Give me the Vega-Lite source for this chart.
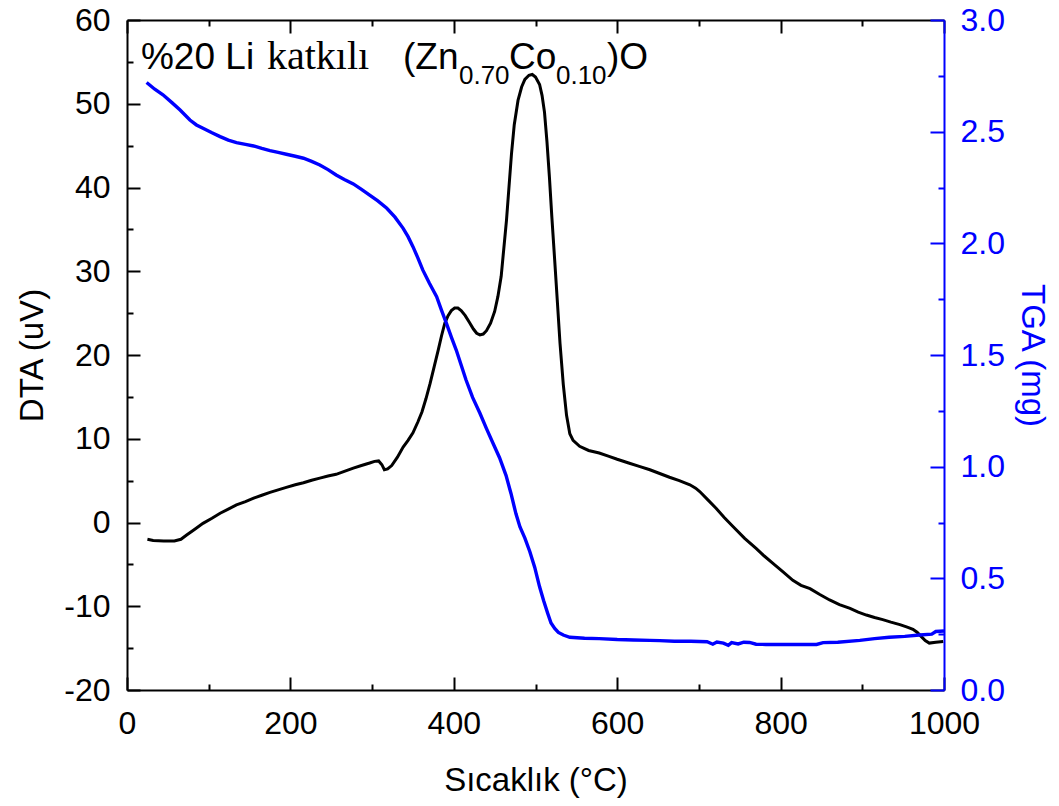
{
  "$schema": "https://vega.github.io/schema/vega-lite/v6.json",
  "width": 817,
  "height": 670,
  "autosize": {"type": "none"},
  "padding": {"left": 127, "top": 20, "right": 115, "bottom": 116},
  "background": "white",
  "config": {
    "view": {"stroke": null},
    "axis": {
      "grid": false,
      "labelFont": "Liberation Sans",
      "titleFont": "Liberation Sans",
      "labelColor": "black",
      "titleColor": "black",
      "titleFontWeight": "normal",
      "labelFontSize": 32,
      "titleFontSize": 33,
      "tickColor": "black",
      "domainColor": "black",
      "tickWidth": 2,
      "domainWidth": 2,
      "labelFlush": false,
      "labelOverlap": false
    }
  },
  "datasets": {
    "dta": [
      {"T":25,"DTA":-2.0},{"T":32,"DTA":-2.15},{"T":45,"DTA":-2.2},{"T":58,"DTA":-2.2},{"T":66,"DTA":-2.0},{"T":73,"DTA":-1.5},{"T":83,"DTA":-0.8},{"T":93,"DTA":-0.1},{"T":104,"DTA":0.5},{"T":114,"DTA":1.1},{"T":124,"DTA":1.6},{"T":134,"DTA":2.1},{"T":145,"DTA":2.5},{"T":155,"DTA":2.9},{"T":165,"DTA":3.25},{"T":175,"DTA":3.6},{"T":185,"DTA":3.9},{"T":195,"DTA":4.2},{"T":206,"DTA":4.5},{"T":216,"DTA":4.75},{"T":226,"DTA":5.05},{"T":236,"DTA":5.3},{"T":246,"DTA":5.55},{"T":256,"DTA":5.75},{"T":266,"DTA":6.1},{"T":277,"DTA":6.5},{"T":287,"DTA":6.8},{"T":297,"DTA":7.1},{"T":303,"DTA":7.3},{"T":308,"DTA":7.35},{"T":312,"DTA":6.9},{"T":315,"DTA":6.3},{"T":319,"DTA":6.4},{"T":324,"DTA":6.8},{"T":331,"DTA":7.8},{"T":338,"DTA":9.0},{"T":344,"DTA":9.8},{"T":350,"DTA":10.7},{"T":356,"DTA":12.0},{"T":361,"DTA":13.2},{"T":366,"DTA":14.8},{"T":371,"DTA":16.6},{"T":376,"DTA":18.6},{"T":381,"DTA":20.6},{"T":385,"DTA":22.3},{"T":389,"DTA":23.8},{"T":393,"DTA":24.7},{"T":397,"DTA":25.3},{"T":401,"DTA":25.6},{"T":405,"DTA":25.6},{"T":409,"DTA":25.3},{"T":414,"DTA":24.7},{"T":419,"DTA":23.9},{"T":424,"DTA":23.1},{"T":428,"DTA":22.6},{"T":432,"DTA":22.4},{"T":436,"DTA":22.5},{"T":440,"DTA":22.9},{"T":445,"DTA":23.8},{"T":450,"DTA":25.2},{"T":454,"DTA":27.0},{"T":458,"DTA":29.4},{"T":461,"DTA":32.5},{"T":464.5,"DTA":36.1},{"T":467.5,"DTA":40.0},{"T":470.6,"DTA":44.0},{"T":474,"DTA":47.5},{"T":478.6,"DTA":50.4},{"T":483,"DTA":52.0},{"T":487,"DTA":52.9},{"T":492,"DTA":53.4},{"T":496,"DTA":53.5},{"T":500,"DTA":53.2},{"T":505,"DTA":52.3},{"T":508,"DTA":51.0},{"T":511,"DTA":49.0},{"T":514,"DTA":45.5},{"T":517,"DTA":41.3},{"T":520,"DTA":36.5},{"T":523.5,"DTA":31.3},{"T":527,"DTA":26.0},{"T":530,"DTA":21.4},{"T":534,"DTA":16.5},{"T":538,"DTA":12.8},{"T":542,"DTA":10.6},{"T":546,"DTA":9.8},{"T":554,"DTA":9.1},{"T":565,"DTA":8.6},{"T":578,"DTA":8.3},{"T":590,"DTA":7.9},{"T":600,"DTA":7.55},{"T":614,"DTA":7.1},{"T":627,"DTA":6.7},{"T":640,"DTA":6.3},{"T":652,"DTA":5.85},{"T":664,"DTA":5.4},{"T":676,"DTA":5.0},{"T":689,"DTA":4.5},{"T":696,"DTA":4.1},{"T":701,"DTA":3.7},{"T":711,"DTA":2.7},{"T":721,"DTA":1.7},{"T":731,"DTA":0.6},{"T":742,"DTA":-0.5},{"T":756,"DTA":-1.9},{"T":770,"DTA":-3.1},{"T":780,"DTA":-4.0},{"T":791,"DTA":-4.9},{"T":803,"DTA":-5.9},{"T":815,"DTA":-6.9},{"T":825,"DTA":-7.5},{"T":836,"DTA":-7.9},{"T":848,"DTA":-8.6},{"T":860,"DTA":-9.25},{"T":872,"DTA":-9.8},{"T":885,"DTA":-10.25},{"T":895,"DTA":-10.7},{"T":905,"DTA":-11.05},{"T":915,"DTA":-11.35},{"T":925,"DTA":-11.6},{"T":935,"DTA":-11.9},{"T":946,"DTA":-12.2},{"T":955,"DTA":-12.5},{"T":962,"DTA":-12.75},{"T":967,"DTA":-13.1},{"T":972,"DTA":-13.6},{"T":977,"DTA":-14.1},{"T":982,"DTA":-14.4},{"T":990,"DTA":-14.3},{"T":999,"DTA":-14.2}
    ],
    "tga": [
      {"T":24,"TGA":2.72},{"T":34,"TGA":2.69},{"T":44,"TGA":2.665},{"T":55,"TGA":2.63},{"T":65,"TGA":2.597},{"T":77,"TGA":2.552},{"T":85,"TGA":2.53},{"T":93,"TGA":2.515},{"T":104,"TGA":2.495},{"T":114,"TGA":2.478},{"T":124,"TGA":2.462},{"T":134,"TGA":2.451},{"T":145,"TGA":2.443},{"T":155,"TGA":2.436},{"T":165,"TGA":2.425},{"T":175,"TGA":2.415},{"T":185,"TGA":2.407},{"T":195,"TGA":2.399},{"T":206,"TGA":2.39},{"T":216,"TGA":2.381},{"T":226,"TGA":2.367},{"T":236,"TGA":2.351},{"T":246,"TGA":2.33},{"T":256,"TGA":2.306},{"T":266,"TGA":2.286},{"T":277,"TGA":2.266},{"T":287,"TGA":2.242},{"T":297,"TGA":2.216},{"T":307,"TGA":2.19},{"T":318,"TGA":2.157},{"T":328,"TGA":2.117},{"T":338,"TGA":2.067},{"T":344,"TGA":2.03},{"T":350,"TGA":1.985},{"T":356,"TGA":1.935},{"T":362,"TGA":1.881},{"T":370,"TGA":1.822},{"T":379,"TGA":1.761},{"T":385,"TGA":1.70},{"T":391,"TGA":1.642},{"T":397,"TGA":1.58},{"T":403,"TGA":1.522},{"T":409,"TGA":1.455},{"T":415,"TGA":1.388},{"T":423,"TGA":1.31},{"T":432,"TGA":1.239},{"T":440,"TGA":1.17},{"T":448,"TGA":1.105},{"T":456,"TGA":1.04},{"T":464,"TGA":0.96},{"T":470,"TGA":0.88},{"T":476,"TGA":0.79},{"T":481,"TGA":0.73},{"T":487,"TGA":0.68},{"T":493,"TGA":0.62},{"T":499,"TGA":0.55},{"T":505,"TGA":0.462},{"T":510,"TGA":0.40},{"T":515,"TGA":0.343},{"T":519,"TGA":0.30},{"T":523.5,"TGA":0.276},{"T":528,"TGA":0.258},{"T":534,"TGA":0.246},{"T":542,"TGA":0.236},{"T":560,"TGA":0.232},{"T":578,"TGA":0.230},{"T":600,"TGA":0.226},{"T":620,"TGA":0.224},{"T":640,"TGA":0.222},{"T":652,"TGA":0.221},{"T":670,"TGA":0.218},{"T":690,"TGA":0.218},{"T":710,"TGA":0.216},{"T":717,"TGA":0.205},{"T":722,"TGA":0.215},{"T":730,"TGA":0.210},{"T":736,"TGA":0.20},{"T":740,"TGA":0.212},{"T":748,"TGA":0.206},{"T":755,"TGA":0.214},{"T":762,"TGA":0.213},{"T":770,"TGA":0.205},{"T":782,"TGA":0.204},{"T":800,"TGA":0.204},{"T":820,"TGA":0.204},{"T":844,"TGA":0.204},{"T":852,"TGA":0.212},{"T":870,"TGA":0.214},{"T":897,"TGA":0.222},{"T":915,"TGA":0.23},{"T":933,"TGA":0.236},{"T":952,"TGA":0.24},{"T":970,"TGA":0.246},{"T":985,"TGA":0.25},{"T":990,"TGA":0.262},{"T":1000,"TGA":0.264}
    ],
    "note": [
      {"part":"%20 Li","T":17.1,"DTA":54.2},
      {"part":"katkılı","T":17.1,"DTA":54.2},
      {"part":"(Zn","T":17.1,"DTA":54.2},
      {"part":"0.70","T":17.1,"DTA":54.2},
      {"part":"Co","T":17.1,"DTA":54.2},
      {"part":"0.10","T":17.1,"DTA":54.2},
      {"part":")O","T":17.1,"DTA":54.2}
    ]
  },
  "layer": [
    {
      "data": {"name": "dta"},
      "mark": {"type": "line", "color": "black", "strokeWidth": 3},
      "encoding": {
        "x": {"field": "T", "type": "quantitative", "scale": {"domain": [0, 1000], "nice": false, "zero": false},
          "axis": {"orient": "bottom", "values": [0,200,400,600,800,1000], "labelExpr": "'' + datum.value", "ticks": false, "labelPadding": 18,
            "title": "Sıcaklık (°C)", "titleY": 100, "titleBaseline": "alphabetic"}},
        "y": {"field": "DTA", "type": "quantitative", "scale": {"domain": [-20, 60], "nice": false, "zero": false},
          "axis": {"orient": "left", "values": [-20,-10,0,10,20,30,40,50,60], "labelExpr": "'' + datum.value", "ticks": false, "labelPadding": 17,
            "title": "DTA (uV)", "titleX": -85, "titleY": 335, "titleAngle": -90, "titleAlign": "center", "titleBaseline": "alphabetic"}}
      }
    },
    {
      "data": {"name": "tga"},
      "mark": {"type": "line", "color": "#0000ff", "strokeWidth": 3.4},
      "encoding": {
        "x": {"field": "T", "type": "quantitative", "scale": {"domain": [0, 1000], "nice": false, "zero": false},
          "axis": {"orient": "bottom", "values": [0,200,400,600,800,1000], "labels": false, "domain": false, "tickSize": -13, "title": null}},
        "y": {"field": "TGA", "type": "quantitative", "scale": {"domain": [0, 3], "nice": false, "zero": false},
          "axis": {"orient": "right", "values": [0,0.5,1,1.5,2,2.5,3], "format": ".1f", "ticks": false, "labelPadding": 16,
            "labelColor": "#0000ff", "domainColor": "#0000ff",
            "title": "TGA (mg)", "titleColor": "#0000ff", "titleX": 77, "titleY": 335, "titleAngle": 90, "titleAlign": "center", "titleBaseline": "alphabetic"}}
      }
    },
    {
      "data": {"name": "dta"},
      "mark": {"type": "line", "opacity": 0},
      "encoding": {
        "x": {"field": "T", "type": "quantitative", "scale": {"domain": [0, 1000], "nice": false, "zero": false},
          "axis": {"orient": "bottom", "values": [100,300,500,700,900], "labels": false, "domain": false, "tickSize": -6, "title": null}},
        "y": {"field": "DTA", "type": "quantitative", "scale": {"domain": [-20, 60], "nice": false, "zero": false},
          "axis": {"orient": "left", "values": [-20,-10,0,10,20,30,40,50,60], "labels": false, "domain": false, "tickSize": -13, "title": null}}
      }
    },
    {
      "data": {"name": "dta"},
      "mark": {"type": "line", "opacity": 0},
      "encoding": {
        "x": {"field": "T", "type": "quantitative", "scale": {"domain": [0, 1000], "nice": false, "zero": false},
          "axis": {"orient": "top", "values": [0,200,400,600,800,1000], "labels": false, "domain": true, "tickSize": -13, "title": null}},
        "y": {"field": "DTA", "type": "quantitative", "scale": {"domain": [-20, 60], "nice": false, "zero": false},
          "axis": {"orient": "left", "values": [-15,-5,5,15,25,35,45,55], "labels": false, "domain": false, "tickSize": -6, "title": null}}
      }
    },
    {
      "data": {"name": "tga"},
      "mark": {"type": "line", "opacity": 0},
      "encoding": {
        "x": {"field": "T", "type": "quantitative", "scale": {"domain": [0, 1000], "nice": false, "zero": false},
          "axis": {"orient": "top", "values": [100,300,500,700,900], "labels": false, "domain": false, "tickSize": -6, "title": null}},
        "y": {"field": "TGA", "type": "quantitative", "scale": {"domain": [0, 3], "nice": false, "zero": false},
          "axis": {"orient": "right", "values": [0,0.5,1,1.5,2,2.5,3], "labels": false, "domain": false, "tickSize": -14, "tickColor": "#0000ff", "title": null}}
      }
    },
    {
      "data": {"name": "tga"},
      "mark": {"type": "line", "opacity": 0},
      "encoding": {
        "x": {"field": "T", "type": "quantitative", "scale": {"domain": [0, 1000], "nice": false, "zero": false}, "axis": null},
        "y": {"field": "TGA", "type": "quantitative", "scale": {"domain": [0, 3], "nice": false, "zero": false},
          "axis": {"orient": "right", "values": [0.25,0.75,1.25,1.75,2.25,2.75], "labels": false, "domain": false, "tickSize": -6, "tickColor": "#0000ff", "title": null}}
      }
    },
    {
      "data": {"name": "note"},
      "transform": [{"filter": "datum.part === '%20 Li'"}],
      "mark": {"type": "text", "align": "left", "baseline": "alphabetic", "font": "Liberation Sans", "fontSize": 37, "color": "black", "dx": 0},
      "encoding": {
        "x": {"field": "T", "type": "quantitative", "scale": {"domain": [0, 1000], "nice": false, "zero": false}, "axis": null},
        "y": {"field": "DTA", "type": "quantitative", "scale": {"domain": [-20, 60], "nice": false, "zero": false}, "axis": null},
        "text": {"field": "part"}
      }
    },
    {
      "data": {"name": "note"},
      "transform": [{"filter": "datum.part === 'katkılı'"}],
      "mark": {"type": "text", "align": "left", "baseline": "alphabetic", "font": "Liberation Serif", "fontSize": 40, "color": "black", "dx": 126},
      "encoding": {
        "x": {"field": "T", "type": "quantitative", "scale": {"domain": [0, 1000], "nice": false, "zero": false}, "axis": null},
        "y": {"field": "DTA", "type": "quantitative", "scale": {"domain": [-20, 60], "nice": false, "zero": false}, "axis": null},
        "text": {"field": "part"}
      }
    },
    {
      "data": {"name": "note"},
      "transform": [{"filter": "datum.part === '(Zn'"}],
      "mark": {"type": "text", "align": "left", "baseline": "alphabetic", "font": "Liberation Sans", "fontSize": 37, "color": "black", "dx": 262},
      "encoding": {
        "x": {"field": "T", "type": "quantitative", "scale": {"domain": [0, 1000], "nice": false, "zero": false}, "axis": null},
        "y": {"field": "DTA", "type": "quantitative", "scale": {"domain": [-20, 60], "nice": false, "zero": false}, "axis": null},
        "text": {"field": "part"}
      }
    },
    {
      "data": {"name": "note"},
      "transform": [{"filter": "datum.part === '0.70'"}],
      "mark": {"type": "text", "align": "left", "baseline": "alphabetic", "font": "Liberation Sans", "fontSize": 26, "color": "black", "dx": 318, "dy": 15},
      "encoding": {
        "x": {"field": "T", "type": "quantitative", "scale": {"domain": [0, 1000], "nice": false, "zero": false}, "axis": null},
        "y": {"field": "DTA", "type": "quantitative", "scale": {"domain": [-20, 60], "nice": false, "zero": false}, "axis": null},
        "text": {"field": "part"}
      }
    },
    {
      "data": {"name": "note"},
      "transform": [{"filter": "datum.part === 'Co'"}],
      "mark": {"type": "text", "align": "left", "baseline": "alphabetic", "font": "Liberation Sans", "fontSize": 37, "color": "black", "dx": 368},
      "encoding": {
        "x": {"field": "T", "type": "quantitative", "scale": {"domain": [0, 1000], "nice": false, "zero": false}, "axis": null},
        "y": {"field": "DTA", "type": "quantitative", "scale": {"domain": [-20, 60], "nice": false, "zero": false}, "axis": null},
        "text": {"field": "part"}
      }
    },
    {
      "data": {"name": "note"},
      "transform": [{"filter": "datum.part === '0.10'"}],
      "mark": {"type": "text", "align": "left", "baseline": "alphabetic", "font": "Liberation Sans", "fontSize": 26, "color": "black", "dx": 415, "dy": 15},
      "encoding": {
        "x": {"field": "T", "type": "quantitative", "scale": {"domain": [0, 1000], "nice": false, "zero": false}, "axis": null},
        "y": {"field": "DTA", "type": "quantitative", "scale": {"domain": [-20, 60], "nice": false, "zero": false}, "axis": null},
        "text": {"field": "part"}
      }
    },
    {
      "data": {"name": "note"},
      "transform": [{"filter": "datum.part === ')O'"}],
      "mark": {"type": "text", "align": "left", "baseline": "alphabetic", "font": "Liberation Sans", "fontSize": 37, "color": "black", "dx": 466},
      "encoding": {
        "x": {"field": "T", "type": "quantitative", "scale": {"domain": [0, 1000], "nice": false, "zero": false}, "axis": null},
        "y": {"field": "DTA", "type": "quantitative", "scale": {"domain": [-20, 60], "nice": false, "zero": false}, "axis": null},
        "text": {"field": "part"}
      }
    }
  ],
  "resolve": {"scale": {"y": "independent"}, "axis": {"x": "independent", "y": "independent"}}
}
